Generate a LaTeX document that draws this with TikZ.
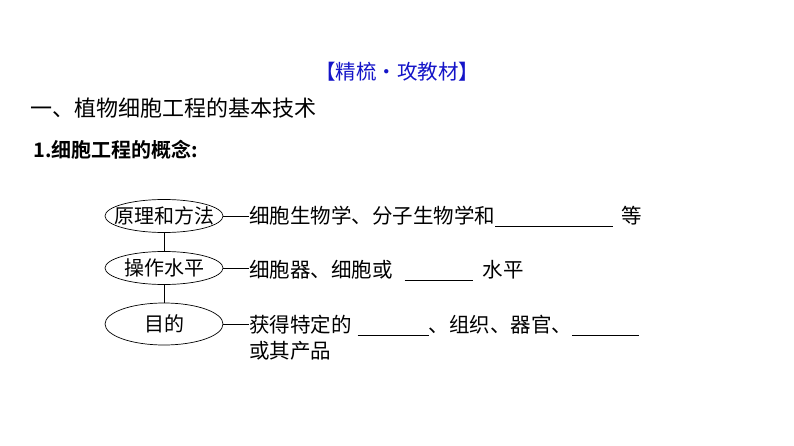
\documentclass[tikz,border=0pt]{standalone}
\usepackage{fontspec}
\setmainfont{Noto Sans CJK SC}[BoldFont={Noto Sans CJK SC Bold}]
\usetikzlibrary{shapes.geometric}
\definecolor{tblue}{RGB}{20,20,200}
\newcommand{\blank}[1]{\rule[-3pt]{#1pt}{0.6pt}}
\begin{document}
\begin{tikzpicture}[x=1pt,y=-1pt,
  ell/.style={draw,ellipse,minimum width=118pt,inner sep=0pt,line width=0.7pt},
  etxt/.style={label={[font=\fontsize{20}{20}\selectfont]center:#1}},
  txt/.style={anchor=west,inner sep=0pt,font=\fontsize{20.5}{24}\selectfont}]
\useasboundingbox (0,0) rectangle (794,446);
\node[font=\fontsize{20.5}{20}\selectfont,text=tblue] (title) at (397,72) {【精梳·攻教材】};
\node[anchor=west,inner sep=0pt,font=\fontsize{22}{22}\selectfont] (h1) at (30,108) {一、植物细胞工程的基本技术};
\node[anchor=west,inner sep=0pt,font=\fontsize{20}{20}\selectfont\bfseries] (h2) at (33,150) {1.细胞工程的概念:};
\node[ell,minimum height=33pt,etxt=原理和方法] (e1) at (164,216) {};
\node[ell,minimum height=33pt,etxt=操作水平] (e2) at (164,268) {};
\node[ell,minimum height=42pt,etxt=目的] (e3) at (164,324) {};
\draw[line width=0.7pt] (e1) -- (e2) (e2) -- (e3);
\node[txt] (t1) at (249,216) {细胞生物学、分子生物学和\blank{118}\hspace{8pt}等};
\node[txt] (t2) at (249,270) {细胞器、细胞或\hspace{12pt}\blank{68}\hspace{10pt}水平};
\node[txt] (t3) at (249,325) {获得特定的\hspace{6pt}\blank{71}、组织、器官、\blank{67}};
\node[txt] (t4) at (249,351) {或其产品};
\draw[line width=0.7pt] (e1.east) -- (e1.east -| t1.west);
\draw[line width=0.7pt] (e2.east) -- (e2.east -| t2.west);
\draw[line width=0.7pt] (e3.east) -- (e3.east -| t3.west);
\end{tikzpicture}
\end{document}
